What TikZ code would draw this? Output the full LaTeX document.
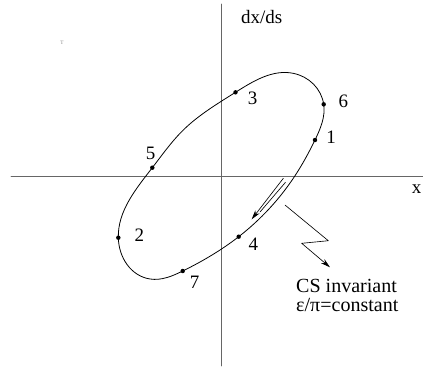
\documentclass[tikz,border=0pt]{standalone}
\usepackage{fontspec}
\setmainfont{Liberation Serif}
\usepackage{tikz}
\usetikzlibrary{arrows.meta}
\usetikzlibrary{positioning}
\usetikzlibrary{hobby}
\tikzset{
  axis/.style={gray!80!black, line width=0.9pt},
  orbitdot/.style={circle, fill=black, inner sep=0pt, minimum size=4.2pt},
  lab/.style={inner sep=0pt, font=\fontsize{18}{17}\selectfont}
}

\begin{document}
\begin{tikzpicture}[line cap=round, line join=round]
		\useasboundingbox (-7.367,-6.533) rectangle (6.733,5.867);
		% axes
		\draw[axis] (-7.0,0) -- (6.733,0);
		\draw[axis] (0,5.733) -- (0,-6.333);
		\node[lab] (xlab) at (6.52,-0.45) {x};
		\node[lab] (ylab) at (1.357,5.31) {dx/ds};
		\node[inner sep=0pt, gray, font=\fontsize{5}{6}\selectfont] (tau) at (-5.3,4.457) {T};
		% phase space ellipse
		\coordinate (p6) at (3.423,2.390);
		\coordinate (p3) at (0.483,2.79);
		\coordinate (p5) at (-2.29,0.277);
		\coordinate (p2) at (-3.423,-2.057);
		\coordinate (p7) at (-1.277,-3.167);
		\coordinate (p4) at (0.59,-2.023);
		\coordinate (p1) at (3.133,1.2);
		\draw[line width=0.75pt, use Hobby shortcut, closed=true]
			(p6) .. (2.41,3.423) .. (p3) .. (-1.257,1.533) .. (p5)
			.. (p2) .. (-2.367,-3.433) .. (p7) .. (p4) .. (2.467,0.01) .. (p1);
		\foreach \p in {1,...,7}
			\node[orbitdot] at (p\p) {};
		\node[lab] (n1) at (3.667,1.277) {1};
		\node[lab] (n2) at (-2.723,-1.967) {2};
		\node[lab] (n3) at (1.057,2.59) {3};
		\node[lab] (n4) at (1.077,-2.267) {4};
		\node[lab] (n5) at (-2.343,0.757) {5};
		\node[lab] (n6) at (4.077,2.477) {6};
		\node[lab] (n7) at (-0.877,-3.557) {7};
		% direction of motion
		\coordinate (a0) at (2.077,-0.077);
		\coordinate (a1) at (1.023,-1.443);
		\coordinate (b0) at (2.15,-0.21);
		\coordinate (b1) at (1.30,-1.20);
		\draw[line width=0.6pt, -{Stealth[length=9pt,width=5pt]}] (a0) -- (a1);
		\draw[line width=0.6pt] (b0) -- (b1);
		% invariant note
		\node[lab, anchor=west, align=left, font=\fontsize{19}{18}\selectfont] (note) at (2.50,-3.967)
			{CS invariant\\ε/π=constant};
		\coordinate (z0) at (2.133,-0.967);
		\coordinate (z1) at (3.577,-2.157);
		\coordinate (z2) at (2.69,-2.243);
		\coordinate (z3) at (3.633,-3.043);
		\draw[line width=0.6pt, -{Stealth[length=9pt,width=5pt]}] (z0) -- (z1) -- (z2) -- (z3);
	\end{tikzpicture}
\end{document}
